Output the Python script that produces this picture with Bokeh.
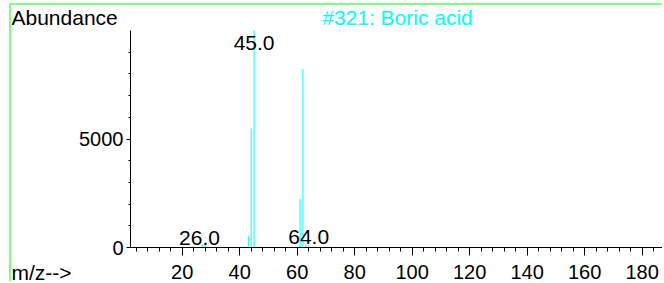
import numpy as np
from bokeh.plotting import figure
from bokeh.models import Range1d, FixedTicker, LinearAxis, Label, ColumnDataSource
from bokeh.embed import file_html
from bokeh.resources import INLINE
from bokeh.core.properties import value

# ---- data ----
mz = [26, 27, 28, 43, 44, 45, 47, 61, 62, 63, 64]
abundance = [20, 150, 230, 540, 5490, 9990, 50, 2230, 8230, 150, 60]
label_mz = [26.0, 45.0, 64.0]
x_major = [20, 40, 60, 80, 100, 120, 140, 160, 180]
x_minor = list(range(4, 188, 4))
y_major = [0, 5000]
y_minor = [1000, 2000, 3000, 4000, 5000, 6000, 7000, 8000, 9000]
title_text = "#321: Boric acid"
y_label_text = "Abundance"
x_label_text = "m/z-->"

FONT = "Liberation Sans"
CYAN = "#00FFFF"
GREEN = "#80FF80"

# ---- layout (pixels) ----
W, H = 653, 278            # canvas size (placed at window x=11, y=5)
AX_LEFT, AX_BOTTOM, AX_TOP = 119, 36, 25
x_axis_lo, x_axis_hi = 2.0, 187.8
y_axis_lo, y_axis_hi = 0, 10000
px_x = (W - AX_LEFT) / (x_axis_hi - x_axis_lo)
px_y = (H - AX_BOTTOM - AX_TOP) / (y_axis_hi - y_axis_lo)
x_lo = x_axis_lo - AX_LEFT / px_x
y_lo = y_axis_lo - AX_BOTTOM / px_y
y_hi = y_axis_hi + AX_TOP / px_y

p = figure(width=W, height=H, output_backend="svg", toolbar_location=None,
           x_range=Range1d(x_lo, x_axis_hi), y_range=Range1d(y_lo, y_hi),
           x_axis_type=None, y_axis_type=None, min_border=0)
p.grid.visible = False
p.outline_line_color = None
p.background_fill_color = "white"
p.border_fill_color = "white"
p.styles = {"position": "absolute", "left": "9px", "top": "3px",
            "border-top": f"2px solid {GREEN}", "border-left": f"2px solid {GREEN}"}

xaxis = LinearAxis(ticker=FixedTicker(ticks=x_major, minor_ticks=x_minor),
                   fixed_location=y_axis_lo, bounds=(x_axis_lo, x_axis_hi))
xaxis.major_tick_in = 0
xaxis.major_tick_out = 8
xaxis.minor_tick_in = 0
xaxis.minor_tick_out = 4
xaxis.major_label_standoff = 9
xaxis.major_label_text_font = FONT
xaxis.major_label_text_font_size = "20px"
xaxis.major_label_text_color = "black"
xaxis.axis_line_color = "black"
xaxis.major_tick_line_color = "black"
xaxis.minor_tick_line_color = "black"
p.add_layout(xaxis, "below")

yaxis = LinearAxis(ticker=FixedTicker(ticks=y_major, minor_ticks=y_minor),
                   fixed_location=x_axis_lo, bounds=(y_axis_lo, y_axis_hi))
yaxis.major_tick_in = 0
yaxis.major_tick_out = 4
yaxis.minor_tick_in = 0
yaxis.minor_tick_out = 2
yaxis.major_label_standoff = 3
yaxis.major_label_text_font = FONT
yaxis.major_label_text_font_size = "20px"
yaxis.major_label_text_color = "black"
yaxis.axis_line_color = "black"
yaxis.major_tick_line_color = "black"
yaxis.minor_tick_line_color = "black"
p.add_layout(yaxis, "left")

src = ColumnDataSource(dict(x=mz, y0=[0] * len(mz), y1=abundance))
p.segment(x0="x", y0="y0", x1="x", y1="y1", source=src, line_color=CYAN, line_width=1)

lookup = dict(zip(mz, abundance))
lab_y = np.minimum([lookup.get(int(m), 0) for m in label_mz], 0.9 * y_axis_hi)
lab_src = ColumnDataSource(dict(x=label_mz, y=lab_y, t=[f"{m:.1f}" for m in label_mz]))
p.text(x="x", y="y", text="t", source=lab_src, text_align="center", text_baseline="alphabetic",
       y_offset=-9, text_font=value(FONT), text_font_size=value("21px"), text_color="black")

# header / footer texts
head_y = y_axis_lo + (247 - 17) / px_y
foot_y = y_axis_lo - (272 - 247) / px_y
p.add_layout(Label(x=x_lo, y=head_y, text=y_label_text,
                   text_font=FONT, text_font_size="21px", text_color="black",
                   text_baseline="alphabetic"))
p.add_layout(Label(x=(x_axis_lo + x_axis_hi) / 2, y=head_y, text=title_text,
                   text_font=FONT, text_font_size="21px", text_color=CYAN,
                   text_align="center", text_baseline="alphabetic"))
p.add_layout(Label(x=x_lo, y=foot_y, text=x_label_text,
                   text_font=FONT, text_font_size="21px", text_color="black",
                   text_baseline="alphabetic"))

open("out.html", "w").write(file_html(p, INLINE))
